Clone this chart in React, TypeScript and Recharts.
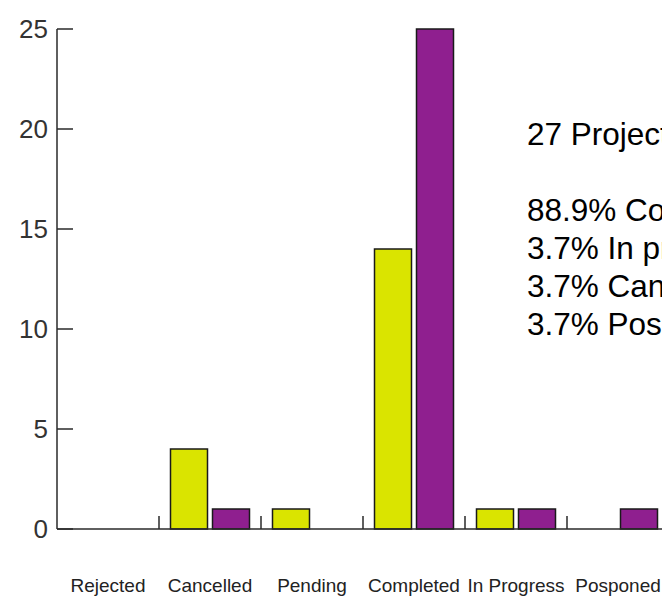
import { BarChart, Bar, XAxis, YAxis } from 'recharts';

const categories = ['Rejected', 'Cancelled', 'Pending', 'Completed', 'In Progress', 'Posponed'];
const seriesA = [0, 4, 1, 14, 1, 0];
const seriesB = [0, 1, 0, 25, 1, 1];
const yTicks = [0, 5, 10, 15, 20, 25];
const summaryLines = [
  '27 Projects',
  '',
  '88.9% Completed',
  '3.7% In progress',
  '3.7% Cancelled',
  '3.7% Posponed',
];

const YELLOW = '#dae400';
const PURPLE = '#8f1f8f';
const AXIS = '#2a2a2a';

const CHART_W = 700;
const PLOT_LEFT = 57;
const PLOT_RIGHT = 669;
const BAND = (PLOT_RIGHT - PLOT_LEFT) / categories.length;

const data = categories.map((name, i) => ({ name, a: seriesA[i], b: seriesB[i] }));

function XTick(props: any) {
  const { x, y, payload, index } = props;
  return (
    <g>
      {index > 0 && (
        <line x1={x - BAND / 2} x2={x - BAND / 2} y1={y - 13} y2={y} stroke={AXIS} strokeWidth={1.5} />
      )}
      <text x={x} y={y + 63} textAnchor="middle" fontSize={19} fill="#222" fontFamily="'Liberation Sans', Arial, sans-serif">
        {payload.value}
      </text>
    </g>
  );
}

function YTick(props: any) {
  const { x, y, payload } = props;
  return (
    <g>
      <line x1={x} x2={x + 16} y1={y} y2={y} stroke={AXIS} strokeWidth={1.5} />
      <text x={x - 9} y={y} dy="0.36em" textAnchor="end" fontSize={26} fill="#333" fontFamily="'Liberation Sans', Arial, sans-serif">
        {payload.value}
      </text>
    </g>
  );
}

export default function App() {
  return (
    <div style={{ position: 'absolute', left: 0, top: 0, width: 662, height: 597, overflow: 'hidden', background: '#fff' }}>
      <BarChart
        width={CHART_W}
        height={597}
        data={data}
        margin={{ top: 29, right: CHART_W - PLOT_RIGHT, left: 0, bottom: 38 }}
        barCategoryGap={11.5}
        barGap={5}
      >
        <XAxis
          dataKey="name"
          height={30}
          tickSize={0}
          tickMargin={0}
          tickLine={false}
          interval={0}
          axisLine={{ stroke: AXIS, strokeWidth: 1.5 }}
          tick={<XTick />}
        />
        <YAxis
          width={PLOT_LEFT}
          domain={[0, 25]}
          ticks={yTicks}
          tickSize={0}
          tickMargin={0}
          tickLine={false}
          axisLine={{ stroke: AXIS, strokeWidth: 1.5 }}
          tick={<YTick />}
        />
        <Bar dataKey="a" fill={YELLOW} stroke="#1a1a1a" strokeWidth={1.5} isAnimationActive={false} />
        <Bar dataKey="b" fill={PURPLE} stroke="#1a1a1a" strokeWidth={1.5} isAnimationActive={false} />
      </BarChart>
      <div
        style={{
          position: 'absolute',
          left: 527,
          top: 115,
          fontFamily: "'Liberation Sans', Arial, sans-serif",
          fontSize: 31.5,
          lineHeight: '38px',
          color: '#000',
          whiteSpace: 'nowrap',
        }}
      >
        {summaryLines.map((line, i) => (
          <div key={i} style={{ height: 38 }}>
            {line}
          </div>
        ))}
      </div>
    </div>
  );
}
